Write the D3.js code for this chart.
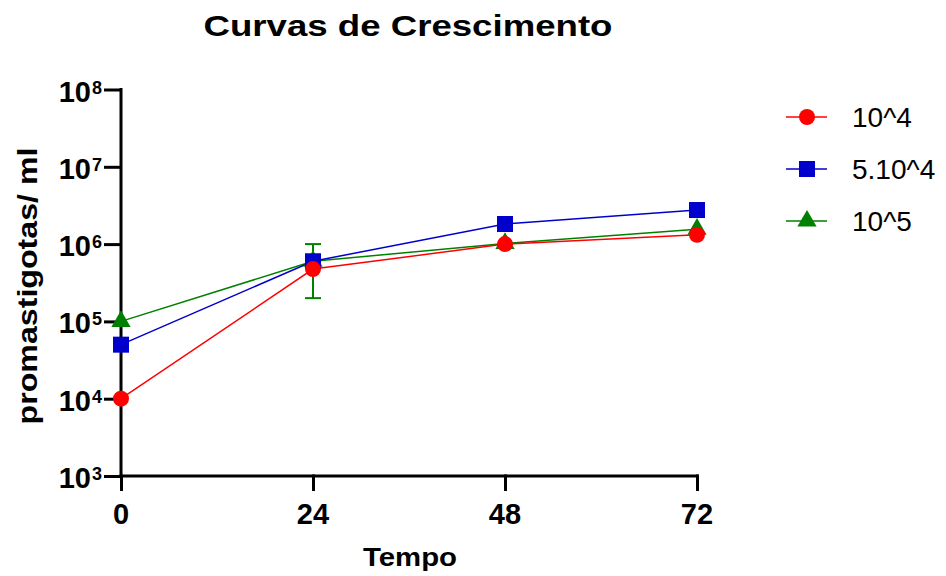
<!DOCTYPE html>
<html><head><meta charset="utf-8">
<script src="https://cdn.jsdelivr.net/npm/d3@7"></script>
<style>body{margin:0;background:#fff}svg{display:block}</style>
</head><body>
<svg id="c" width="946" height="576"></svg>
<script>
const times = [0, 24, 48, 72];
const seriesNames = ["10^4", "5.10^4", "10^5"];
const s1 = [1e4, 4.75e5, 1.0e6, 1.32e6];
const s2 = [5e4, 6.0e5, 1.82e6, 2.76e6];
const s3 = [1e5, 6.0e5, 1.02e6, 1.56e6];
const s3err = [0, 4e5, 0, 0];
const colors = ["#FF0000", "#0000CC", "#008000"];
const shapes = ["circle", "square", "triangle"];
const yTickExps = [3, 4, 5, 6, 7, 8];
const xTicks = [0, 24, 48, 72];

const svg = d3.select("#c");
const x = d3.scaleLinear().domain([0, 72]).range([121, 697]);
const y = d3.scaleLog().domain([1e3, 1e8]).range([476, 89.5]);
const font = "'Liberation Sans', Arial, sans-serif";

// title
svg.append("text").attr("x", 408).attr("y", 36).attr("text-anchor", "middle")
  .attr("font-family", font).attr("font-weight", "bold").attr("font-size", 30)
  .attr("textLength", 409).attr("lengthAdjust", "spacingAndGlyphs")
  .text("Curvas de Crescimento");

// axes
const gy = svg.append("g").attr("transform", "translate(121,0)")
  .call(d3.axisLeft(y).tickValues(yTickExps.map(e => Math.pow(10, e))).tickSize(17).tickFormat(""));
const gx = svg.append("g").attr("transform", "translate(0,476)")
  .call(d3.axisBottom(x).tickValues(xTicks).tickSize(15).tickFormat(""));
[gy, gx].forEach(g => {
  g.select(".domain").attr("stroke", "#000").attr("stroke-width", 3);
  g.selectAll(".tick line").attr("stroke", "#000").attr("stroke-width", 3);
});
gy.select(".domain").attr("d", `M0,${y(1e3)+1.5}V${y(1e8)-1.5}`);
gx.select(".domain").attr("d", `M${x(0)-1.5},0H${x(72)+1.5}`);
gx.selectAll(".tick line").attr("y1", -1.5);

// y tick labels
yTickExps.forEach(e => {
  const t = svg.append("text").attr("x", 102).attr("y", y(Math.pow(10, e)) + 12)
    .attr("text-anchor", "end").attr("font-family", font).attr("font-weight", "bold").attr("font-size", 29);
  t.append("tspan").text("10");
  t.append("tspan").attr("dx", 1).attr("dy", -8).attr("font-size", 18).text(e);
});
// x tick labels
xTicks.forEach(v => {
  svg.append("text").attr("x", x(v)).attr("y", 524).attr("text-anchor", "middle")
    .attr("font-family", font).attr("font-weight", "bold").attr("font-size", 29).text(v);
});
// axis titles
svg.append("text").attr("x", 410).attr("y", 566).attr("text-anchor", "middle")
  .attr("font-family", font).attr("font-weight", "bold").attr("font-size", 26)
  .attr("textLength", 94).attr("lengthAdjust", "spacingAndGlyphs").text("Tempo");
svg.append("text").attr("transform", "translate(37,286) rotate(-90)").attr("text-anchor", "middle")
  .attr("font-family", font).attr("font-weight", "bold").attr("font-size", 28)
  .attr("textLength", 277).attr("lengthAdjust", "spacingAndGlyphs").text("promastigotas/ ml");

const data = [s1, s2, s3];
const line = d3.line().x((d, i) => x(times[i])).y(d => y(d));

function marker(g, shape, cx, cy, color) {
  if (shape === "circle") g.append("circle").attr("cx", cx).attr("cy", cy).attr("r", 8).attr("fill", color);
  else if (shape === "square") g.append("rect").attr("x", cx - 8).attr("y", cy - 8).attr("width", 16).attr("height", 16).attr("fill", color);
  else g.append("path").attr("d", d3.symbol(d3.symbolTriangle, 160)()).attr("transform", `translate(${cx},${cy})`).attr("fill", color);
}

// error bars (series 3)
s3err.forEach((e, i) => {
  if (!e) return;
  const hi = y(s3[i] + e), lo = y(s3[i] - e), cx = x(times[i]);
  const g = svg.append("g").attr("stroke", colors[2]).attr("stroke-width", 2);
  g.append("line").attr("x1", cx).attr("x2", cx).attr("y1", hi).attr("y2", lo);
  g.append("line").attr("x1", cx - 8).attr("x2", cx + 8).attr("y1", hi).attr("y2", hi);
  g.append("line").attr("x1", cx - 8).attr("x2", cx + 8).attr("y1", lo).attr("y2", lo);
});

[2, 1, 0].forEach(k => {
  svg.append("path").attr("d", line(data[k])).attr("fill", "none").attr("stroke", colors[k]).attr("stroke-width", 1.5);
});
[2, 1, 0].forEach(k => {
  const g = svg.append("g");
  data[k].forEach((v, i) => marker(g, shapes[k], x(times[i]), y(v), colors[k]));
});

// legend
const ly = [117, 169, 221];
seriesNames.forEach((n, k) => {
  const g = svg.append("g");
  g.append("line").attr("x1", 786).attr("x2", 827).attr("y1", ly[k]).attr("y2", ly[k]).attr("stroke", colors[k]).attr("stroke-width", 1.5);
  marker(g, shapes[k], 807, ly[k], colors[k]);
  g.append("text").attr("x", 852).attr("y", ly[k] + 10).attr("font-family", font).attr("font-size", 28).text(n);
});
</script>
</body></html>
